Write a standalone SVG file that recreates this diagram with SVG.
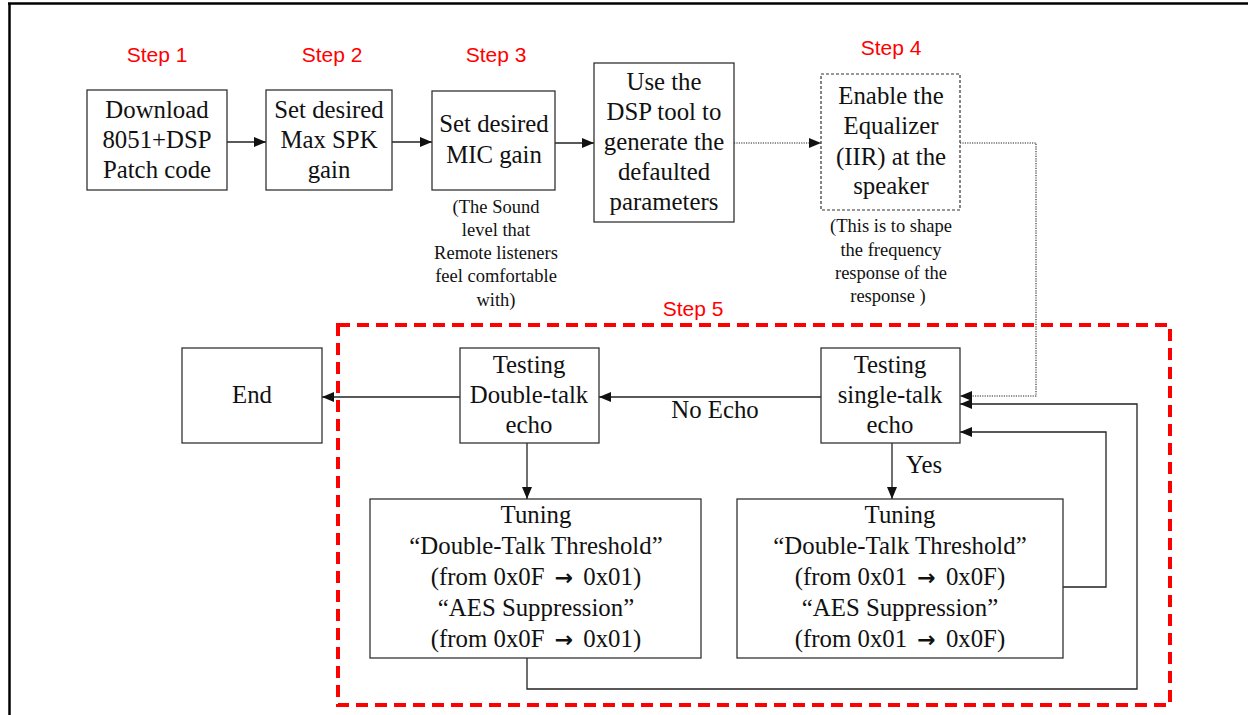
<svg xmlns="http://www.w3.org/2000/svg" width="1248" height="715" viewBox="0 0 1248 715">
  <style>
    .box { fill: #fff; stroke: #333; stroke-width: 1.3; }
    .dbox { fill: #fff; stroke: #333; stroke-width: 1.2; stroke-dasharray: 3 2; }
    .t { font-family: "Liberation Serif", "Times New Roman", serif; font-size: 24.8px; fill: #111; text-anchor: middle; }
    .arr { font-family: "DejaVu Sans", sans-serif; font-weight: bold; font-size: 22px; }
    .note { font-family: "Liberation Serif", "Times New Roman", serif; font-size: 18.5px; fill: #111; text-anchor: middle; }
    .step { font-family: "Liberation Sans", Arial, sans-serif; font-size: 21px; fill: #ff0000; text-anchor: middle; }
    .ln { fill: none; stroke: #222; stroke-width: 1.3; }
    .dot { fill: none; stroke: #222; stroke-width: 1.1; stroke-dasharray: 1.2 1.2; }
    .group5 { fill: none; stroke: #ff0000; stroke-width: 4; stroke-dasharray: 12 7; }
  </style>
  <defs>
    <marker id="ah" markerUnits="userSpaceOnUse" markerWidth="12" markerHeight="10" refX="12" refY="5" orient="auto">
      <path d="M0,0 L12,5 L0,10 z" fill="#111"/>
    </marker>
  </defs>

  <rect width="1248" height="715" fill="#fff"/>
  <!-- page frame -->
  <line x1="8" y1="3.5" x2="1248" y2="3.5" stroke="#000" stroke-width="2.5"/>
  <line x1="9.5" y1="3" x2="9.5" y2="715" stroke="#000" stroke-width="2.5"/>

  <!-- step labels -->
  <text class="step" x="157" y="62">Step 1</text>
  <text class="step" x="332" y="62">Step 2</text>
  <text class="step" x="496" y="62">Step 3</text>
  <text class="step" x="891" y="55">Step 4</text>
  <text class="step" x="693" y="316">Step 5</text>

  <!-- step 5 region -->
  <rect class="group5" x="338" y="325" width="832" height="380"/>

  <g id="connectors">
    <line class="ln" x1="227" y1="142" x2="266" y2="142" marker-end="url(#ah)"/>
    <line class="ln" x1="392" y1="142" x2="432" y2="142" marker-end="url(#ah)"/>
    <line class="ln" x1="555" y1="143" x2="594" y2="143" marker-end="url(#ah)"/>
    <line class="dot" x1="734" y1="143" x2="821" y2="143" marker-end="url(#ah)"/>
    <polyline class="dot" points="960,143 1036,143 1036,396 960,396" marker-end="url(#ah)"/>
    <line class="ln" x1="821" y1="397" x2="599" y2="397" marker-end="url(#ah)"/>
    <line class="ln" x1="460" y1="397" x2="322" y2="397" marker-end="url(#ah)"/>
    <line class="ln" x1="527" y1="443" x2="527" y2="499" marker-end="url(#ah)"/>
    <line class="ln" x1="892" y1="443" x2="892" y2="499" marker-end="url(#ah)"/>
    <polyline class="ln" points="527,658 527,689 1137,689 1137,404 960,404" marker-end="url(#ah)"/>
    <polyline class="ln" points="1063,587 1106,587 1106,432 960,432" marker-end="url(#ah)"/>
    <text class="t" x="715" y="418">No Echo</text>
    <text class="t" x="924" y="473">Yes</text>
  </g>

  <g id="download">
    <rect class="box" x="87" y="90" width="140" height="100"/>
    <text class="t" x="157" y="118">Download</text>
    <text class="t" x="157" y="148">8051+DSP</text>
    <text class="t" x="157" y="178">Patch code</text>
  </g>

  <g id="spk-gain">
    <rect class="box" x="266" y="90" width="126" height="100"/>
    <text class="t" x="329" y="118">Set desired</text>
    <text class="t" x="329" y="148">Max SPK</text>
    <text class="t" x="329" y="178">gain</text>
  </g>

  <g id="mic-gain">
    <rect class="box" x="432" y="91" width="123" height="99"/>
    <text class="t" x="494" y="132">Set desired</text>
    <text class="t" x="494" y="163">MIC gain</text>
    <text class="note" x="496" y="213">(The Sound</text>
    <text class="note" x="496" y="236">level that</text>
    <text class="note" x="496" y="259">Remote listeners</text>
    <text class="note" x="496" y="282">feel comfortable</text>
    <text class="note" x="496" y="306">with)</text>
  </g>

  <g id="dsp-tool">
    <rect class="box" x="594" y="63" width="140" height="159"/>
    <text class="t" x="664" y="90">Use the</text>
    <text class="t" x="664" y="120">DSP tool to</text>
    <text class="t" x="664" y="150">generate the</text>
    <text class="t" x="664" y="180">defaulted</text>
    <text class="t" x="664" y="210">parameters</text>
  </g>

  <g id="equalizer">
    <rect class="dbox" x="821" y="74" width="139" height="136"/>
    <text class="t" x="891" y="104">Enable the</text>
    <text class="t" x="891" y="134">Equalizer</text>
    <text class="t" x="891" y="165">(IIR) at the</text>
    <text class="t" x="891" y="194">speaker</text>
    <text class="note" x="891" y="232">(This is to shape</text>
    <text class="note" x="891" y="256">the frequency</text>
    <text class="note" x="891" y="279">response of the</text>
    <text class="note" x="888" y="302">response )</text>
  </g>

  <g id="end">
    <rect class="box" x="182" y="348" width="140" height="95"/>
    <text class="t" x="252" y="403">End</text>
  </g>

  <g id="double-talk-test">
    <rect class="box" x="460" y="348" width="139" height="95"/>
    <text class="t" x="529" y="373">Testing</text>
    <text class="t" x="529" y="403">Double-talk</text>
    <text class="t" x="529" y="433">echo</text>
  </g>

  <g id="single-talk-test">
    <rect class="box" x="821" y="348" width="139" height="95"/>
    <text class="t" x="890" y="373">Testing</text>
    <text class="t" x="890" y="403">single-talk</text>
    <text class="t" x="890" y="433">echo</text>
  </g>

  <g id="tuning-down">
    <rect class="box" x="370" y="499" width="331" height="159"/>
    <text class="t" x="536" y="523">Tuning</text>
    <text class="t" x="536" y="554">“Double-Talk Threshold”</text>
    <text class="t" x="536" y="585">(from 0x0F <tspan class="arr" dx="4">→</tspan><tspan dx="4"> 0x01)</tspan></text>
    <text class="t" x="536" y="616">“AES Suppression”</text>
    <text class="t" x="536" y="647">(from 0x0F <tspan class="arr" dx="4">→</tspan><tspan dx="4"> 0x01)</tspan></text>
  </g>

  <g id="tuning-up">
    <rect class="box" x="737" y="499" width="326" height="159"/>
    <text class="t" x="900" y="523">Tuning</text>
    <text class="t" x="900" y="554">“Double-Talk Threshold”</text>
    <text class="t" x="900" y="585">(from 0x01 <tspan class="arr" dx="4">→</tspan><tspan dx="4"> 0x0F)</tspan></text>
    <text class="t" x="900" y="616">“AES Suppression”</text>
    <text class="t" x="900" y="647">(from 0x01 <tspan class="arr" dx="4">→</tspan><tspan dx="4"> 0x0F)</tspan></text>
  </g>
</svg>
